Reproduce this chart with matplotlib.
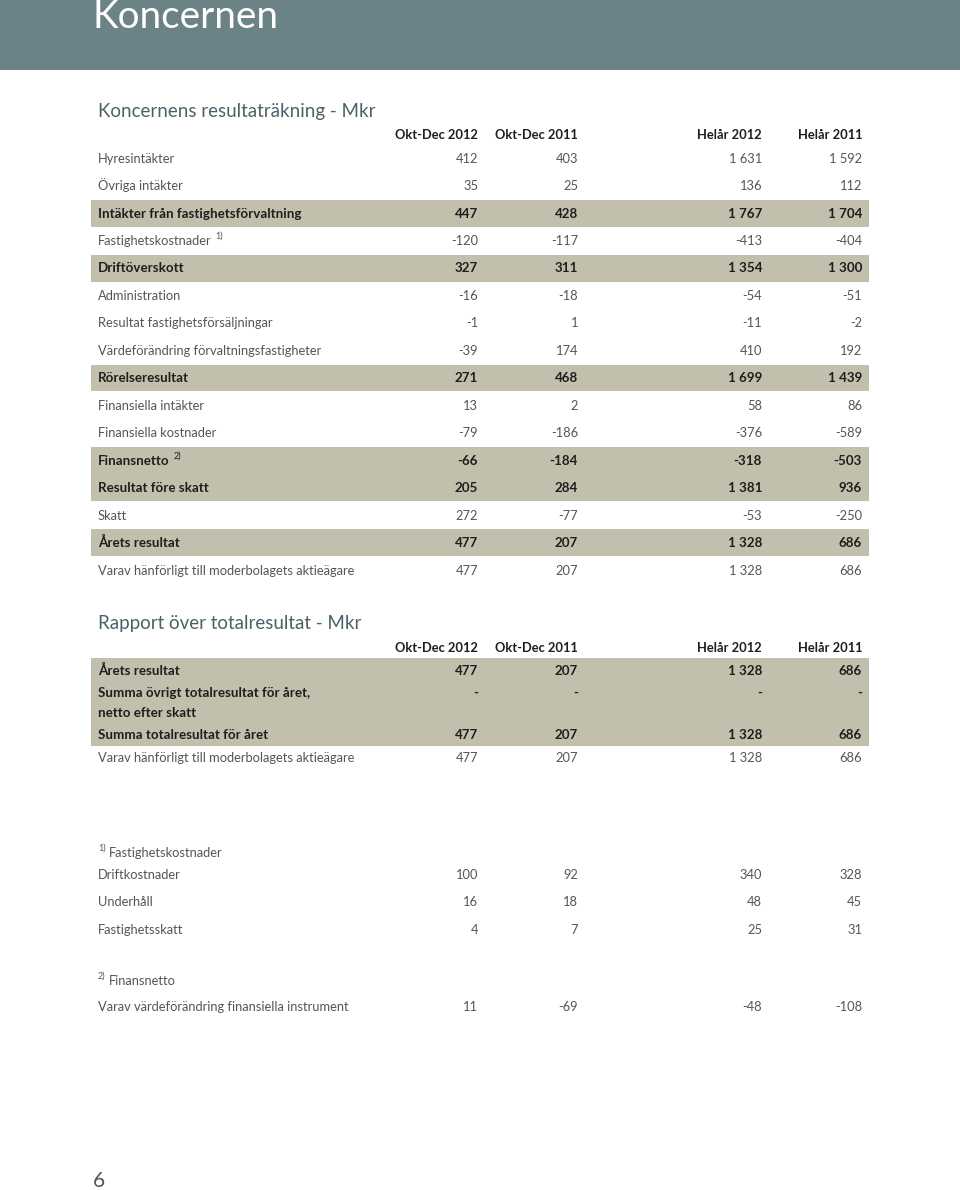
import matplotlib.pyplot as plt
from matplotlib.patches import Rectangle

# --- data ---
columns = ['Okt-Dec 2012', 'Okt-Dec 2011', 'Helår 2012', 'Helår 2011']

rows_income = ['Hyresintäkter', 'Övriga intäkter', 'Intäkter från fastighetsförvaltning',
               'Fastighetskostnader', 'Driftöverskott', 'Administration',
               'Resultat fastighetsförsäljningar', 'Värdeförändring förvaltningsfastigheter',
               'Rörelseresultat', 'Finansiella intäkter', 'Finansiella kostnader',
               'Finansnetto', 'Resultat före skatt', 'Skatt', 'Årets resultat',
               'Varav hänförligt till moderbolagets aktieägare']
okt_dec_2012 = [412, 35, 447, -120, 327, -16, -1, -39, 271, 13, -79, -66, 205, 272, 477, 477]
okt_dec_2011 = [403, 25, 428, -117, 311, -18, 1, 174, 468, 2, -186, -184, 284, -77, 207, 207]
helar_2012 = [1631, 136, 1767, -413, 1354, -54, -11, 410, 1699, 58, -376, -318, 1381, -53, 1328, 1328]
helar_2011 = [1592, 112, 1704, -404, 1300, -51, -2, 192, 1439, 86, -589, -503, 936, -250, 686, 686]
income_notes = {'Fastighetskostnader': '1)', 'Finansnetto': '2)'}
income_bold = ['Intäkter från fastighetsförvaltning', 'Driftöverskott', 'Rörelseresultat',
               'Finansnetto', 'Resultat före skatt', 'Årets resultat']

rows_total = ['Årets resultat', 'Summa övrigt totalresultat för året,\nnetto efter skatt',
              'Summa totalresultat för året', 'Varav hänförligt till moderbolagets aktieägare']
total_2012q = [477, None, 477, 477]
total_2011q = [207, None, 207, 207]
total_2012 = [1328, None, 1328, 1328]
total_2011 = [686, None, 686, 686]
total_bold = rows_total[:3]

note1_rows = ['Driftkostnader', 'Underhåll', 'Fastighetsskatt']
note1_vals = [[100, 92, 340, 328], [16, 18, 48, 45], [4, 7, 25, 31]]
note2_rows = ['Varav värdeförändring finansiella instrument']
note2_vals = [[11, -69, -48, -108]]


def fmt(v):
    if v is None:
        return '-'
    return f'{v:,}'.replace(',', ' ')


plt.rcParams['font.family'] = ['Lato', 'DejaVu Sans']

fig = plt.figure(figsize=(9.6, 11.9), dpi=100)
ax = fig.add_axes([0, 0, 1, 1])
ax.set_xlim(0, 960)
ax.set_ylim(1190, 0)
ax.axis('off')

header_col = '#6b8286'
title_col = '#4b6167'
band_col = '#c2c0ad'
light_col = '#555555'
bold_col = '#1e1e1e'
fs = 9.3
fs_b = 9.6
col_x = [478, 578, 762, 862]
lab_x = 98
base = 4.6  # baseline offset below row centre

ax.add_patch(Rectangle((0, 0), 960, 70, color=header_col, lw=0))
ax.text(92, 28, 'Koncernen', color='white', fontsize=27.8, va='baseline', ha='left')

renderer = fig.canvas.get_renderer()


def row(y, label, vals, bold, note=None):
    w = 'bold' if bold else 'normal'
    c = bold_col if bold else light_col
    s = fs_b if bold else fs
    t = ax.text(lab_x, y + base, label, fontsize=s, fontweight=w, color=c,
                va='baseline', ha='left')
    if note:
        bb = t.get_window_extent(renderer)
        ax.text(bb.x1 + 4, y - 1.5, note, fontsize=6.5, color=c, fontweight='normal',
                va='baseline', ha='left')
    for x, v in zip(col_x, vals):
        ax.text(x, y + base, fmt(v), fontsize=s, fontweight=w, color=c,
                va='baseline', ha='right')


def head(y):
    for x, name in zip(col_x, columns):
        ax.text(x, y + base, name, fontsize=9.3, fontweight='bold', color=bold_col,
                va='baseline', ha='right')


# --- table 1 ---
ax.text(98, 117, 'Koncernens resultaträkning - Mkr', fontsize=13.5, color=title_col,
        va='baseline', ha='left')
head(134)
step = 27.47
y0 = 158
for i, lab in enumerate(rows_income):
    y = y0 + i * step
    bold = lab in income_bold
    if bold:
        ax.add_patch(Rectangle((91, y - step / 2 + 0.5), 778, step - 0.5, color=band_col, lw=0))
    row(y, lab, [okt_dec_2012[i], okt_dec_2011[i], helar_2012[i], helar_2011[i]],
        bold, income_notes.get(lab))

# --- table 2 ---
ax.text(98, 629, 'Rapport över totalresultat - Mkr', fontsize=13.5, color=title_col,
        va='baseline', ha='left')
head(647)
ax.add_patch(Rectangle((91, 658), 778, 88, color=band_col, lw=0))
ys2 = [670, 702, 734, 757]
for i, lab in enumerate(rows_total):
    vals = [total_2012q[i], total_2011q[i], total_2012[i], total_2011[i]]
    y = ys2[i]
    if '\n' in lab:
        first, second = lab.split('\n')
        row(y - 10, first, vals, True)
        row(y + 10, second, [], True)
    else:
        row(y, lab, vals, lab in total_bold)


# --- footnotes ---
def note_head(y, mark, text):
    t = ax.text(lab_x, y - 1.5, mark, fontsize=6.5, color=light_col,
                va='baseline', ha='left')
    bb = t.get_window_extent(renderer)
    ax.text(bb.x1 + 3, y + base, text, fontsize=fs, color=light_col,
            va='baseline', ha='left')


note_head(852, '1)', 'Fastighetskostnader')
for i, lab in enumerate(note1_rows):
    row(874 + i * step, lab, note1_vals[i], False)
note_head(980, '2)', 'Finansnetto')
for i, lab in enumerate(note2_rows):
    row(1006 + i * step, lab, note2_vals[i], False)

ax.text(93, 1187, '6', fontsize=15, color='#555555', va='baseline', ha='left')

fig.savefig('out.png', dpi=100)
